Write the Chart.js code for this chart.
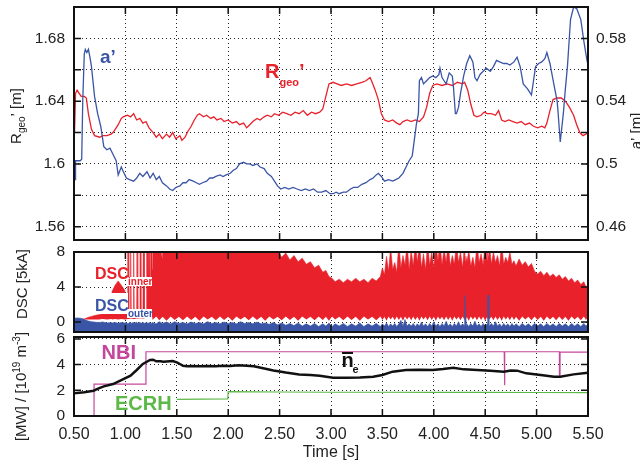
<!DOCTYPE html>
<html>
<head>
<meta charset="utf-8">
<script src="https://cdn.jsdelivr.net/npm/chart.js@4.4.1/dist/chart.umd.min.js"></script>
<style>
  html, body { margin: 0; padding: 0; background: #fff; }
  #wrap { position: relative; width: 640px; height: 464px; overflow: hidden; }
  canvas { position: absolute; left: 0; }
</style>
</head>
<body>
<div id="wrap">
  <canvas id="cTop" width="640" height="248" style="top:0px"></canvas>
  <canvas id="cMid" width="640" height="96" style="top:244px"></canvas>
  <canvas id="cBot" width="640" height="139" style="top:325px"></canvas>
</div>
<script>
// ── Ticks ────────────────────────────────────────────────────
const timeTicks  = [0.5, 1.0, 1.5, 2.0, 2.5, 3.0, 3.5, 4.0, 4.5, 5.0, 5.5];
const rgeoTicks  = [1.56, 1.58, 1.60, 1.62, 1.64, 1.66, 1.68];
const rgeoLabels = [1.56, 1.6, 1.64, 1.68];
const aTicks     = [0.46, 0.48, 0.50, 0.52, 0.54, 0.56, 0.58];
const aLabels    = [0.46, 0.5, 0.54, 0.58];
const dscTicks   = [0, 2, 4, 6, 8];
const dscLabels  = [0, 4, 8];
const powTicks   = [0, 2, 4, 6];

// ── Top panel: R_geo' [m] (left) and a' [m] (right) ──────────
const rgeoTime = [0.505,0.515,0.53,0.55,0.57,0.60,0.62,0.64,0.67,0.70,0.75,0.78,0.82,0.86,0.88,0.91,0.93,0.96,0.98,1.02,
  1.05,1.08,1.11,1.14,1.17,1.20,1.23,1.27,1.30,1.33,1.36,1.40,1.43,1.46,1.49,1.53,1.55,1.58,1.61,1.64,
  1.67,1.70,1.72,1.76,1.79,1.83,1.86,1.89,1.93,1.96,2.00,2.04,2.08,2.11,2.15,2.18,2.21,2.24,2.28,2.31,
  2.35,2.38,2.42,2.45,2.49,2.53,2.57,2.61,2.65,2.69,2.73,2.77,2.81,2.85,2.89,2.92,2.95,2.98,3.02,3.06,
  3.10,3.15,3.20,3.25,3.30,3.34,3.38,3.40,3.43,3.46,3.49,3.52,3.56,3.60,3.64,3.67,3.70,3.74,3.78,3.82,
  3.86,3.90,3.93,3.96,3.99,4.03,4.08,4.13,4.18,4.23,4.28,4.30,4.33,4.36,4.39,4.42,4.46,4.49,4.52,4.56,
  4.60,4.63,4.66,4.69,4.73,4.77,4.81,4.85,4.89,4.93,4.97,5.01,5.05,5.08,5.10,5.13,5.16,5.20,5.24,5.28,
  5.32,5.36,5.39,5.42,5.45,5.48,5.50];
const rgeoVal = [1.620,1.645,1.647,1.645,1.643,1.643,1.642,1.632,1.622,1.618,1.617,1.618,1.618,1.619,1.620,1.623,1.625,1.629,1.630,1.631,
  1.630,1.632,1.628,1.629,1.626,1.627,1.623,1.620,1.617,1.619,1.616,1.619,1.617,1.620,1.616,1.618,1.615,1.617,1.621,1.624,
  1.628,1.631,1.632,1.630,1.631,1.629,1.630,1.628,1.629,1.627,1.628,1.626,1.627,1.625,1.626,1.623,1.625,1.627,1.629,1.628,
  1.630,1.631,1.630,1.632,1.631,1.633,1.632,1.631,1.633,1.632,1.634,1.631,1.633,1.632,1.633,1.635,1.643,1.651,1.652,1.651,
  1.650,1.651,1.650,1.651,1.652,1.653,1.655,1.652,1.647,1.641,1.632,1.628,1.627,1.628,1.626,1.625,1.627,1.628,1.627,1.628,
  1.627,1.630,1.636,1.645,1.650,1.651,1.650,1.651,1.650,1.652,1.651,1.652,1.647,1.638,1.631,1.630,1.631,1.633,1.632,1.632,
  1.631,1.634,1.628,1.627,1.628,1.627,1.626,1.627,1.625,1.626,1.624,1.623,1.624,1.623,1.626,1.634,1.641,1.642,1.642,1.640,
  1.636,1.631,1.625,1.620,1.618,1.619,1.620];

const apTime = [0.500,0.505,0.51,0.515,0.53,0.56,0.575,0.585,0.60,0.61,0.625,0.64,0.655,0.67,0.70,0.73,0.76,0.79,0.82,0.85,
  0.88,0.91,0.93,0.96,0.98,1.01,1.04,1.08,1.11,1.14,1.17,1.21,1.24,1.27,1.30,1.33,1.36,1.40,1.43,1.46,
  1.49,1.53,1.56,1.59,1.62,1.66,1.69,1.72,1.75,1.79,1.82,1.85,1.88,1.92,1.95,1.98,2.02,2.05,2.08,2.11,
  2.15,2.18,2.21,2.24,2.28,2.31,2.35,2.38,2.42,2.45,2.48,2.51,2.55,2.59,2.63,2.67,2.71,2.75,2.79,2.83,
  2.87,2.91,2.95,2.99,3.02,3.05,3.08,3.12,3.15,3.19,3.22,3.26,3.30,3.34,3.38,3.41,3.44,3.46,3.49,3.52,
  3.56,3.60,3.63,3.66,3.70,3.73,3.76,3.79,3.81,3.83,3.85,3.86,3.88,3.90,3.93,3.96,3.99,4.02,4.05,4.06,
  4.08,4.10,4.12,4.15,4.18,4.19,4.21,4.22,4.24,4.26,4.29,4.32,4.35,4.38,4.40,4.42,4.45,4.48,4.51,4.55,
  4.58,4.61,4.64,4.68,4.71,4.74,4.78,4.81,4.84,4.87,4.91,4.95,4.97,4.99,5.02,5.05,5.08,5.10,5.13,5.17,
  5.20,5.21,5.23,5.24,5.26,5.28,5.30,5.33,5.36,5.39,5.43,5.46,5.49,5.50];
const apVal = [0.500,0.493,0.490,0.502,0.502,0.502,0.503,0.540,0.570,0.573,0.571,0.573,0.568,0.562,0.543,0.532,0.524,0.511,0.509,0.510,
  0.506,0.502,0.493,0.498,0.495,0.491,0.490,0.489,0.491,0.494,0.492,0.495,0.491,0.494,0.490,0.492,0.488,0.486,0.484,0.483,
  0.485,0.486,0.488,0.488,0.490,0.489,0.488,0.487,0.488,0.489,0.491,0.491,0.492,0.493,0.492,0.493,0.494,0.496,0.497,0.500,
  0.501,0.500,0.500,0.499,0.500,0.498,0.497,0.494,0.492,0.489,0.486,0.484,0.485,0.484,0.485,0.484,0.483,0.484,0.483,0.484,
  0.482,0.482,0.483,0.481,0.481,0.482,0.481,0.482,0.482,0.484,0.485,0.485,0.487,0.488,0.490,0.491,0.493,0.494,0.492,0.489,
  0.490,0.489,0.490,0.491,0.494,0.498,0.502,0.505,0.515,0.525,0.532,0.553,0.555,0.551,0.553,0.555,0.556,0.555,0.557,0.561,
  0.555,0.553,0.551,0.558,0.556,0.550,0.532,0.532,0.536,0.545,0.556,0.564,0.569,0.565,0.555,0.553,0.557,0.559,0.561,0.559,
  0.562,0.566,0.565,0.564,0.564,0.563,0.565,0.568,0.562,0.551,0.548,0.544,0.553,0.562,0.564,0.565,0.567,0.571,0.564,0.550,
  0.540,0.532,0.514,0.520,0.532,0.548,0.562,0.592,0.600,0.599,0.592,0.578,0.566,0.563];

// ── Middle panel: DSC [5kA] ──────────────────────────────────
const dscTime = [
  0.50,0.54,0.58,0.61,0.64,0.67,0.70,0.74,0.78,0.82,
  0.865,0.87,0.90,0.93,0.96,0.995,1.00,1.020,1.023,1.030,
  1.033,1.045,1.048,1.054,1.057,1.074,1.077,1.083,1.086,1.110,
  1.113,1.119,1.122,1.139,1.142,1.148,1.151,1.171,1.174,1.181,
  1.184,1.204,1.207,1.216,1.219,1.226,1.236,1.240,1.246,1.258,
  1.262,1.268,1.30,1.33,1.36,1.362,1.40,1.44,1.48,1.52,
  1.56,1.60,1.64,1.68,1.72,1.76,1.80,1.84,1.88,1.92,
  1.96,2.00,2.04,2.08,2.12,2.16,2.20,2.24,2.28,2.32,
  2.36,2.40,2.44,2.48,2.52,2.56,2.60,2.64,2.68,2.72,
  2.76,2.80,2.84,2.88,2.92,2.95,2.98,3.01,3.04,3.08,
  3.12,3.16,3.20,3.24,3.28,3.32,3.36,3.40,3.44,3.48,
  3.50,3.52,3.54,3.56,3.58,3.60,3.62,3.64,3.66,3.68,
  3.70,3.72,3.74,3.76,3.78,3.80,3.82,3.84,3.86,3.88,
  3.90,3.92,3.94,3.96,3.98,4.00,4.02,4.04,4.06,4.08,
  4.10,4.12,4.14,4.16,4.18,4.20,4.22,4.24,4.26,4.28,
  4.30,4.304,4.312,4.316,4.32,4.34,4.36,4.38,4.40,4.42,
  4.44,4.46,4.48,4.50,4.52,4.524,4.532,4.536,4.54,4.56,
  4.58,4.60,4.62,4.64,4.66,4.68,4.70,4.72,4.74,4.76,
  4.78,4.80,4.83,4.86,4.89,4.92,4.95,4.98,5.01,5.04,
  5.07,5.10,5.13,5.16,5.19,5.22,5.25,5.28,5.31,5.34,
  5.37,5.40,5.43,5.46,5.48,5.50];
const dscInnerTop = [
  0.25,0.25,0.30,0.40,0.55,0.65,0.75,0.85,0.95,1.00,
  1.05,3.50,4.20,4.70,4.20,3.60,1.10,1.10,9,9,
  1.10,1.10,9,9,1.10,1.10,9,9,1.10,1.10,
  9,9,1.10,1.10,9,9,1.10,1.10,9,9,
  1.10,1.10,9,9,3.0,9,9,4.0,9,9,
  6.0,9,9,9,7.2,9,9,9,9,9,
  9,9,9,9,9,9,9,9,9,9,
  9,9,9,9,9,9,9,9,9,9,
  9,8.6,9,8.2,7.4,7.9,7.1,7.6,6.9,7.3,
  6.6,6.9,6.2,6.5,5.7,5.9,5.2,5.0,4.6,4.9,
  4.5,4.9,4.6,5.0,4.6,4.9,4.5,5.0,4.7,5.2,
  6.2,5.4,7.5,5.8,8.5,6.0,6.8,5.7,9,6.2,
  7.6,6.5,9,6.0,8.2,6.4,9,6.8,9,6.2,
  7.8,6.0,9,6.5,8.0,6.2,9,7.0,9,6.5,
  8.4,6.8,9,6.4,7.6,6.6,9,6.8,8.0,6.2,
  9,7.0,7.5,7.2,6.6,8.2,6.4,7.4,6.2,9,
  6.8,7.8,6.5,9,7.0,8.0,7.5,7.2,9,6.6,
  8.0,6.8,7.6,6.4,9,6.6,7.4,6.8,8.0,6.6,
  7.0,6.4,7.2,6.5,6.9,6.3,6.7,5.8,5.5,5.8,
  5.3,5.7,5.2,5.5,5.1,5.4,4.9,5.2,4.7,5.0,
  4.5,4.8,4.3,4.6,4.0,4.3];
const dscInnerBottom = [
  0.25,0.25,0.30,0.30,0.30,0.30,0.30,0.30,0.35,0.30,
  0.35,0.30,0.35,0.30,0.35,0.30,0.30,0.35,0.35,0.35,
  0.35,0.40,0.40,0.40,0.40,0.35,0.35,0.35,0.35,0.40,
  0.40,0.40,0.40,0.45,0.45,0.45,0.45,0.40,0.40,0.40,
  0.45,0.50,0.50,0.50,0.50,0.50,0.50,0.50,0.50,0.55,
  0.60,0.30,0.65,0.20,0.60,0.60,0.15,0.65,0.25,0.60,
  0.20,0.65,0.25,0.60,0.15,0.65,0.30,0.60,0.20,0.65,
  0.25,0.60,0.15,0.65,0.30,0.60,0.20,0.65,0.25,0.60,
  0.15,0.65,0.30,0.60,0.20,0.65,0.25,0.60,0.15,0.65,
  0.30,0.60,0.20,0.65,0.25,0.60,0.15,0.65,0.30,0.60,
  0.20,0.65,0.25,0.60,0.15,0.65,0.30,0.60,0.20,0.65,
  0.25,0.60,0.15,0.65,0.30,0.60,0.20,0.65,0.25,0.60,
  0.15,0.65,0.30,0.60,0.20,0.65,0.25,0.60,0.15,0.65,
  0.30,0.60,0.20,0.65,0.25,0.60,0.15,0.65,0.30,0.60,
  0.20,0.65,0.25,0.60,0.15,0.65,0.30,0.60,0.20,0.65,
  0.25,0.40,0.40,0.40,0.60,0.15,0.65,0.30,0.60,0.20,
  0.65,0.25,0.60,0.15,0.65,0.40,0.40,0.40,0.30,0.60,
  0.20,0.65,0.25,0.60,0.15,0.65,0.30,0.60,0.20,0.65,
  0.25,0.60,0.15,0.65,0.30,0.60,0.20,0.65,0.25,0.60,
  0.15,0.65,0.30,0.60,0.20,0.65,0.25,0.60,0.15,0.65,
  0.30,0.60,0.20,0.65,0.25,0.60];
const dscOuterTop = [
  0.45,0.48,0.40,0.25,0.12,0.05,0.00,-0.05,0.02,-0.10,
  -0.05,-0.10,-0.05,-0.12,-0.05,-0.10,-0.05,-0.15,-0.15,-0.15,
  -0.10,0.00,-0.10,-0.10,-0.15,-0.05,-0.10,-0.10,-0.15,0.00,
  -0.10,-0.10,-0.15,-0.05,-0.10,-0.10,-0.15,0.00,-0.10,-0.10,
  -0.15,-0.05,-0.10,-0.10,-0.15,-0.10,-0.05,-0.15,-0.10,-0.15,
  -0.05,-0.10,-0.20,0.05,-0.15,-0.15,0.00,-0.20,0.05,-0.15,
  -0.05,-0.20,0.00,-0.15,-0.05,-0.20,0.05,-0.15,-0.05,-0.20,
  0.00,-0.15,-0.05,-0.20,0.05,-0.15,-0.05,-0.20,0.00,-0.20,
  -0.10,-0.25,-0.05,-0.30,-0.10,-0.35,-0.15,-0.40,-0.10,-0.45,
  -0.20,-0.45,-0.15,-0.50,-0.20,-0.45,-0.10,-0.50,-0.20,-0.45,
  -0.15,-0.50,-0.20,-0.45,-0.10,-0.50,-0.20,-0.45,-0.15,-0.50,
  -0.20,-0.45,-0.10,-0.50,-0.20,-0.45,-0.15,-0.50,-0.20,0.20,
  -0.45,0.30,-0.45,-0.20,-0.45,-0.15,-0.50,-0.20,-0.45,0.00,
  -0.45,-0.20,-0.50,-0.15,-0.45,0.05,-0.45,-0.20,-0.50,-0.15,
  -0.45,0.10,-0.45,-0.20,-0.50,-0.15,-0.45,0.05,-0.45,-0.20,
  -0.45,3.05,3.05,-0.40,-0.20,-0.50,-0.15,-0.45,0.10,-0.45,
  -0.20,-0.50,-0.15,-0.45,-0.20,3.05,3.05,-0.40,-0.45,-0.15,
  -0.45,0.05,-0.45,-0.20,-0.50,-0.15,-0.45,-0.20,-0.50,-0.15,
  -0.45,-0.20,-0.50,-0.15,-0.45,-0.20,-0.50,-0.15,-0.45,-0.20,
  -0.50,-0.15,-0.45,-0.20,-0.50,-0.15,-0.45,-0.20,-0.50,-0.15,
  -0.45,-0.20,-0.50,-0.15,-0.45,-0.20];

// ── Bottom panel: NBI [MW], ECRH [MW], n_e [1e19 m^-3] ──────
const neTime = [0.50,0.60,0.69,0.74,0.79,0.88,0.98,1.05,1.11,1.17,1.24,1.27,1.30,1.34,1.37,1.43,1.46,1.50,1.53,1.56,
  1.60,1.65,1.72,1.80,1.88,1.95,2.02,2.10,2.18,2.25,2.34,2.44,2.56,2.69,2.80,2.89,3.02,3.15,3.28,3.41,
  3.50,3.60,3.73,3.86,3.99,4.09,4.19,4.29,4.42,4.55,4.68,4.75,4.81,4.90,5.04,5.17,5.23,5.36,5.50];
const neVal = [1.77,1.85,1.97,2.15,2.31,2.49,2.88,3.14,3.58,4.05,4.36,4.38,4.26,4.26,4.22,4.26,4.28,4.18,4.05,3.91,
  3.87,3.89,3.88,3.90,3.87,3.91,3.90,3.95,3.92,3.87,3.72,3.55,3.38,3.24,3.19,3.14,2.98,2.98,2.99,3.06,
  3.19,3.45,3.58,3.60,3.58,3.66,3.76,3.63,3.58,3.53,3.45,3.55,3.53,3.32,3.19,3.06,3.06,3.24,3.37];
const nbiTime = [0.50,0.695,0.695,1.20,1.20,4.685,4.685,4.692,4.692,5.222,5.222,5.228,5.228,5.50];
const nbiVal  = [0,0,2.48,2.48,5.0,5.0,2.40,2.40,5.0,5.0,3.18,3.18,4.97,4.97];
const ecrhTime = [1.50,1.75,1.995,2.00,2.50,3.00,3.50,4.00,4.50,5.00,5.50];
const ecrhVal  = [1.29,1.31,1.33,1.90,1.87,1.85,1.85,1.84,1.84,1.83,1.82];

// ── Helpers ──────────────────────────────────────────────────
const FAM = '"Liberation Sans", Arial, sans-serif';
Chart.defaults.font.family = FAM;
Chart.defaults.color = '#222';

const xy = (ts, vs) => ts.map((t, i) => ({ x: t, y: vs[i] }));
const setTicks = arr => scale => { scale.ticks = arr.map(v => ({ value: v })); };
const fixWidth = w => s => { s.width = w; s.paddingTop = s.paddingBottom = s.paddingLeft = s.paddingRight = 0; };
const fixHeight = h => s => { s.height = h; s.paddingTop = s.paddingBottom = s.paddingLeft = s.paddingRight = 0; };

function drawParts(ctx, x, y, parts) {
  parts.forEach(([text, font, color, dy]) => {
    ctx.font = font;
    ctx.fillStyle = color;
    ctx.fillText(text, x, y + (dy || 0));
    x += ctx.measureText(text).width;
  });
}
function partsWidth(ctx, parts) {
  let w = 0;
  parts.forEach(([text, font]) => { ctx.font = font; w += ctx.measureText(text).width; });
  return w;
}
// rotated (-90°) title, baseline at x, centred on y
function drawVTitle(ctx, x, y, parts) {
  ctx.save();
  ctx.translate(x, y);
  ctx.rotate(-Math.PI / 2);
  ctx.textBaseline = 'alphabetic';
  ctx.textAlign = 'left';
  drawParts(ctx, -partsWidth(ctx, parts) / 2, 0, parts);
  ctx.restore();
}
const f = (size, bold) => (bold ? 'bold ' : '') + size + 'px ' + FAM;

// frame + inward tick marks on all four sides
const framePlugin = {
  id: 'frame',
  afterDatasetsDraw(chart) {
    const { ctx, chartArea: a, scales } = chart;
    ctx.save();
    ctx.strokeStyle = '#111';
    ctx.lineWidth = 1.5;
    ctx.beginPath();
    scales.x.ticks.forEach(t => {
      const px = scales.x.getPixelForValue(t.value);
      ctx.moveTo(px, a.bottom); ctx.lineTo(px, a.bottom - 7);
      ctx.moveTo(px, a.top);    ctx.lineTo(px, a.top + 7);
    });
    scales.y.ticks.forEach(t => {
      const py = scales.y.getPixelForValue(t.value);
      ctx.moveTo(a.left, py);  ctx.lineTo(a.left + 7, py);
      ctx.moveTo(a.right, py); ctx.lineTo(a.right - 7, py);
    });
    ctx.stroke();
    ctx.lineWidth = 2;
    ctx.strokeRect(a.left, a.top, a.right - a.left, a.bottom - a.top);
    ctx.restore();
  }
};

const gridDots = { color: '#222', lineWidth: 1, drawTicks: false };
const dotBorder = { display: false, dash: [1, 3] };

function xAxis(showLabels) {
  return {
    type: 'linear', min: 0.5, max: 5.5,
    grid: gridDots, border: dotBorder,
    afterBuildTicks: setTicks(timeTicks),
    ticks: {
      display: showLabels, padding: 9, maxRotation: 0,
      font: { size: 16 }, callback: v => v.toFixed(2)
    },
    title: showLabels
      ? { display: true, text: 'Time [s]', font: { size: 16 }, padding: { top: 0, bottom: 2 } }
      : { display: false },
    afterFit: fixHeight(showLabels ? 48 : 0)
  };
}

const base = {
  responsive: false, animation: false, devicePixelRatio: 1,
  events: [],
  plugins: { legend: { display: false }, tooltip: { enabled: false } },
  elements: { point: { radius: 0 }, line: { tension: 0 } }
};

// ── Top chart ────────────────────────────────────────────────
new Chart(document.getElementById('cTop'), {
  type: 'line',
  data: {
    datasets: [
      { data: xy(apTime, apVal), yAxisID: 'y2', borderColor: '#3a55a5', borderWidth: 1.3, fill: false },
      { data: xy(rgeoTime, rgeoVal), yAxisID: 'y', borderColor: '#e8212b', borderWidth: 1.3, fill: false }
    ]
  },
  options: {
    ...base,
    layout: { padding: { top: 7, bottom: 8, left: 0, right: 0 } },
    scales: {
      x: xAxis(false),
      y: {
        position: 'left', min: 1.5515, max: 1.70,
        grid: gridDots, border: dotBorder,
        afterBuildTicks: setTicks(rgeoTicks),
        ticks: { padding: 9, font: { size: 15.5 }, callback: v => rgeoLabels.includes(v) ? String(v) : '' },
        afterFit: fixWidth(74)
      },
      y2: {
        position: 'right', min: 0.4515, max: 0.60,
        grid: { drawOnChartArea: false, drawTicks: false }, border: { display: false },
        afterBuildTicks: setTicks(aTicks),
        ticks: { padding: 8, font: { size: 15.5 }, callback: v => aLabels.includes(v) ? String(v) : '' },
        afterFit: fixWidth(52)
      }
    }
  },
  plugins: [framePlugin, {
    id: 'topLabels',
    afterDraw(chart) {
      const ctx = chart.ctx;
      ctx.save();
      ctx.textBaseline = 'alphabetic';
      drawParts(ctx, 100, 63, [['a\u2019', f(19, true), '#3a55a5']]);
      drawParts(ctx, 265, 78, [['R', f(20, true), '#e8212b'], ['geo', f(11, true), '#e8212b', 8], ['\u2019', f(20, true), '#e8212b']]);
      drawVTitle(ctx, 21, 116, [['R', f(15), '#222'], ['geo', f(10), '#222', 4], ['\u2019 [m]', f(15), '#222']]);
      drawVTitle(ctx, 641, 131, [['a\u2019 [m]', f(15), '#222']]);
      ctx.restore();
    }
  }]
});

// ── Middle chart ─────────────────────────────────────────────
new Chart(document.getElementById('cMid'), {
  type: 'line',
  data: {
    datasets: [
      { data: xy(dscTime, dscOuterTop), borderColor: '#3a55a5', borderWidth: 0.6,
        backgroundColor: '#3a55a5', fill: 'start' },
      { data: xy(dscTime, dscInnerBottom), borderColor: 'rgba(0,0,0,0)', borderWidth: 1, fill: false },
      { data: xy(dscTime, dscInnerTop), borderColor: '#e8212b', borderWidth: 0.6,
        backgroundColor: '#e8212b', fill: 1 }
    ]
  },
  options: {
    ...base,
    layout: { padding: { top: 8, bottom: 8, left: 0, right: 52 } },
    scales: {
      x: xAxis(false),
      y: {
        position: 'left', min: -1.13, max: 8,
        grid: gridDots, border: dotBorder,
        afterBuildTicks: setTicks(dscTicks),
        ticks: { padding: 9, font: { size: 15.5 }, callback: v => dscLabels.includes(v) ? String(v) : '' },
        afterFit: fixWidth(74)
      }
    }
  },
  plugins: [framePlugin, {
    id: 'midLabels',
    afterDraw(chart) {
      const ctx = chart.ctx;
      ctx.save();
      ctx.textBaseline = 'alphabetic';
      ctx.fillStyle = '#fff';
      ctx.fillRect(93, 49, 35, 21);
      ctx.fillRect(127, 33, 25, 9);
      ctx.fillRect(127, 65, 25, 9);
      drawParts(ctx, 95, 35, [['DSC', f(16, true), '#e8212b']]);
      drawParts(ctx, 128, 40.5, [['inner', f(10, true), '#e8212b']]);
      drawParts(ctx, 95, 67, [['DSC', f(16, true), '#3a55a5']]);
      drawParts(ctx, 128, 72.5, [['outer', f(10, true), '#3a55a5']]);
      drawVTitle(ctx, 26.5, 40, [['DSC [5kA]', f(15), '#222']]);
      ctx.restore();
    }
  }]
});

// ── Bottom chart ─────────────────────────────────────────────
new Chart(document.getElementById('cBot'), {
  type: 'line',
  data: {
    datasets: [
      { data: xy(neTime, neVal), borderColor: '#111', borderWidth: 2.5, fill: false },
      { data: xy(nbiTime, nbiVal), borderColor: '#c4479d', borderWidth: 1.2, fill: false },
      { data: xy(ecrhTime, ecrhVal), borderColor: '#5cb847', borderWidth: 1.2, fill: false }
    ]
  },
  options: {
    ...base,
    layout: { padding: { top: 12, bottom: 0, left: 0, right: 52 } },
    scales: {
      x: xAxis(true),
      y: {
        position: 'left', min: 0, max: 6.15,
        grid: gridDots, border: dotBorder,
        afterBuildTicks: setTicks(powTicks),
        ticks: { padding: 9, font: { size: 15.5 }, callback: v => String(v) },
        afterFit: fixWidth(74)
      }
    }
  },
  plugins: [framePlugin, {
    id: 'botLabels',
    afterDraw(chart) {
      const ctx = chart.ctx;
      ctx.save();
      ctx.textBaseline = 'alphabetic';
      drawParts(ctx, 101.5, 34, [['NBI', f(20, true), '#c4479d']]);
      drawParts(ctx, 115, 85, [['ECRH', f(20, true), '#5cb847']]);
      drawParts(ctx, 341.5, 41.7, [['n', f(20, true), '#111']]);
      drawParts(ctx, 352.5, 48.3, [['e', f(11, true), '#111']]);
      ctx.strokeStyle = '#111';
      ctx.lineWidth = 2;
      ctx.beginPath(); ctx.moveTo(342, 28); ctx.lineTo(353, 28); ctx.stroke();
      drawVTitle(ctx, 25.5, 61.5, [
        ['[MW] / [10', f(15), '#222'], ['19', f(10), '#222', -6],
        [' m', f(15), '#222'], ['-3', f(10), '#222', -6], [']', f(15), '#222']
      ]);
      ctx.restore();
    }
  }]
});
</script>
</body>
</html>
